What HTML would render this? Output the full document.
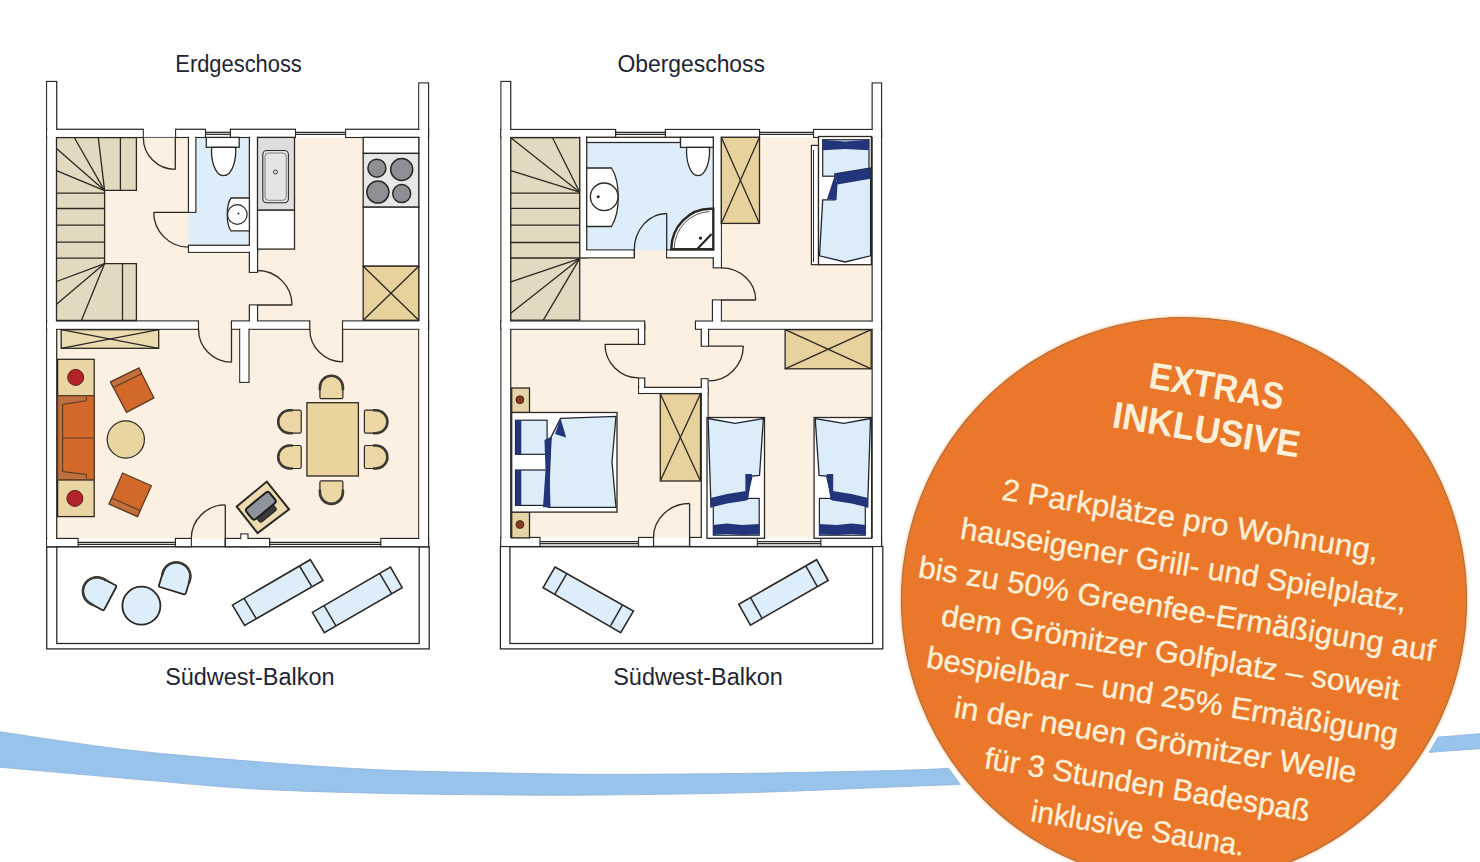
<!DOCTYPE html><html><head><meta charset="utf-8"><style>html,body{margin:0;padding:0;background:#fff}body{width:1480px;height:862px;overflow:hidden;position:relative}svg{position:absolute;left:0;top:0;display:block}text{font-family:"Liberation Sans",sans-serif}</style></head><body>
<svg width="1480" height="862" viewBox="0 0 1480 862">
<rect width="1480" height="862" fill="#fff"/>
<path d="M-2,731.5 L0,731.8 C20.83,734.77 83.33,744.72 125,749.6 C166.67,754.48 208.33,757.77 250,761.1 C291.67,764.43 333.33,767.63 375,769.6 C416.67,771.57 462.5,772.12 500,772.9 C537.5,773.68 558.33,774.23 600,774.3 C641.67,774.37 700,773.97 750,773.3 C800,772.63 866.88,771.13 900,770.3 C933.12,769.47 940.58,768.63 948.7,768.3 L960.3,784.5 C950.25,784.87 935.05,785.35 900,786.7 C864.95,788.05 800,791.22 750,792.6 C700,793.98 641.67,794.62 600,795 C558.33,795.38 537.5,795.2 500,794.9 C462.5,794.6 416.67,794.23 375,793.2 C333.33,792.17 291.67,791.18 250,788.7 C208.33,786.22 166.67,781.87 125,778.3 C83.33,774.73 20.83,769.13 0,767.3 L-2,767 Z" fill="#98c3ea" stroke="#8fb4d8" stroke-width="0.8"/>
<path d="M1438,737.1 L1482,733.6 L1482,748.5 L1429.2,752.4 Z" fill="#98c3ea" stroke="#8fb4d8" stroke-width="0.8"/>
<circle cx="1184" cy="600" r="285.5" fill="#fef3e6"/><circle cx="1184" cy="600" r="284.2" fill="#fbe2c6"/>
<circle cx="1184" cy="600" r="282.5" fill="#ea772a" stroke="#b06c3c" stroke-width="1.2"/>
<g transform="translate(1184,600) rotate(9.3)" fill="#fdf0d8"><text x="-70.1" y="-203.5" font-size="37.5" font-weight="bold" textLength="135.9" lengthAdjust="spacingAndGlyphs">EXTRAS</text><text x="-100.1" y="-158.9" font-size="37.5" font-weight="bold" textLength="189.6" lengthAdjust="spacingAndGlyphs">INKLUSIVE</text><text x="-197.2" y="-69.5" font-size="30.5" stroke="#fdf0d8" stroke-width="0.35" textLength="381.2" lengthAdjust="spacingAndGlyphs">2 Parkplätze pro Wohnung,</text><text x="-231.7" y="-24.5" font-size="30.5" stroke="#fdf0d8" stroke-width="0.35" textLength="451.6" lengthAdjust="spacingAndGlyphs">hauseigener Grill- und Spielplatz,</text><text x="-267.1" y="20.3" font-size="30.5" stroke="#fdf0d8" stroke-width="0.35" textLength="523.1" lengthAdjust="spacingAndGlyphs">bis zu 50% Greenfee-Ermäßigung auf</text><text x="-236.8" y="64.3" font-size="30.5" stroke="#fdf0d8" stroke-width="0.35" textLength="464.3" lengthAdjust="spacingAndGlyphs">dem Grömitzer Golfplatz – soweit</text><text x="-244.5" y="108.3" font-size="30.5" stroke="#fdf0d8" stroke-width="0.35" textLength="477.3" lengthAdjust="spacingAndGlyphs">bespielbar – und 25% Ermäßigung</text><text x="-209.1" y="153" font-size="30.5" stroke="#fdf0d8" stroke-width="0.35" textLength="407.1" lengthAdjust="spacingAndGlyphs">in der neuen Grömitzer Welle</text><text x="-171" y="198.5" font-size="30.5" stroke="#fdf0d8" stroke-width="0.35" textLength="329.5" lengthAdjust="spacingAndGlyphs">für 3 Stunden Badespaß</text><text x="-116.4" y="243" font-size="30.5" stroke="#fdf0d8" stroke-width="0.35" textLength="215.9" lengthAdjust="spacingAndGlyphs">inklusive Sauna.</text></g>
<text x="175.3" y="71.5" font-size="23" fill="#1d2433" textLength="126.5" lengthAdjust="spacingAndGlyphs">Erdgeschoss</text>
<text x="617.4" y="71.5" font-size="23" fill="#1d2433" textLength="147.6" lengthAdjust="spacingAndGlyphs">Obergeschoss</text>
<text x="165.2" y="684.6" font-size="23" fill="#1d2433" textLength="169.3" lengthAdjust="spacingAndGlyphs">Südwest-Balkon</text>
<text x="613.2" y="684.6" font-size="23" fill="#1d2433" textLength="169.6" lengthAdjust="spacingAndGlyphs">Südwest-Balkon</text>
<rect x="46.7" y="546.7" width="382.5" height="102.2" fill="#fff" stroke="#2c2924" stroke-width="1.3" />
<rect x="56.8" y="546.8" width="362.4" height="96.7" fill="#fff" stroke="#2c2924" stroke-width="1.3" />
<rect x="56.7" y="137.4" width="362.1" height="401.1" fill="#fbf0e2" stroke="none" stroke-width="0" />
<rect x="195.8" y="137.4" width="53.6" height="107.9" fill="#ddedfa" stroke="none" stroke-width="0" />
<rect x="188.5" y="212.3" width="7.5" height="33" fill="#ddedfa" stroke="none" stroke-width="0" />
<g fill="#fff" stroke="#2c2924" stroke-width="1.3"><rect x="46.7" y="81.5" width="10" height="465.2"/><rect x="418.8" y="83" width="9.7" height="463.7"/><rect x="46.7" y="129.3" width="96.5" height="8.1"/><rect x="175.7" y="129.3" width="29.7" height="8.1"/><rect x="230.5" y="129.3" width="64.9" height="8.1"/><rect x="345.7" y="129.3" width="82.8" height="8.1"/><rect x="188.5" y="133" width="7.3" height="79.3"/><rect x="188.5" y="245.3" width="69" height="7"/><rect x="249.4" y="133" width="8.1" height="139.3"/><rect x="249.4" y="305" width="8.1" height="20"/><rect x="46.7" y="321" width="151.7" height="8.2"/><rect x="231.5" y="321" width="78.2" height="8.2"/><rect x="342.6" y="321" width="85.9" height="8.2"/><rect x="239.8" y="325" width="9.1" height="57.3"/><rect x="46.7" y="538.5" width="31.3" height="8.2"/><rect x="175.5" y="538.5" width="15.8" height="8.2"/><rect x="225.3" y="538.5" width="44.3" height="8.2"/><rect x="240.9" y="534" width="7" height="12.7"/><rect x="381" y="538.5" width="47.5" height="8.2"/></g>
<g fill="#fff"><rect x="47.35" y="82.15" width="8.7" height="463.9"/><rect x="419.45" y="83.65" width="8.4" height="462.4"/><rect x="47.35" y="129.95" width="95.2" height="6.8"/><rect x="176.35" y="129.95" width="28.4" height="6.8"/><rect x="231.15" y="129.95" width="63.6" height="6.8"/><rect x="346.35" y="129.95" width="81.5" height="6.8"/><rect x="189.15" y="133.65" width="6" height="78"/><rect x="189.15" y="245.95" width="67.7" height="5.7"/><rect x="250.05" y="133.65" width="6.8" height="138"/><rect x="250.05" y="305.65" width="6.8" height="18.7"/><rect x="47.35" y="321.65" width="150.4" height="6.9"/><rect x="232.15" y="321.65" width="76.9" height="6.9"/><rect x="343.25" y="321.65" width="84.6" height="6.9"/><rect x="240.45" y="325.65" width="7.8" height="56"/><rect x="47.35" y="539.15" width="30" height="6.9"/><rect x="176.15" y="539.15" width="14.5" height="6.9"/><rect x="225.95" y="539.15" width="43" height="6.9"/><rect x="241.55" y="534.65" width="5.7" height="11.4"/><rect x="381.65" y="539.15" width="46.2" height="6.9"/></g>
<line x1="205.4" y1="132.3" x2="230.5" y2="132.3" stroke="#2c2924" stroke-width="1.25"/>
<line x1="205.4" y1="134.3" x2="230.5" y2="134.3" stroke="#2c2924" stroke-width="1.25"/>
<line x1="295.4" y1="132.3" x2="345.7" y2="132.3" stroke="#2c2924" stroke-width="1.25"/>
<line x1="295.4" y1="134.3" x2="345.7" y2="134.3" stroke="#2c2924" stroke-width="1.25"/>
<line x1="78" y1="542.4" x2="175.5" y2="542.4" stroke="#2c2924" stroke-width="1.25"/>
<line x1="78" y1="544.4" x2="175.5" y2="544.4" stroke="#2c2924" stroke-width="1.25"/>
<line x1="269.6" y1="542.4" x2="381" y2="542.4" stroke="#2c2924" stroke-width="1.25"/>
<line x1="269.6" y1="544.4" x2="381" y2="544.4" stroke="#2c2924" stroke-width="1.25"/>
<line x1="175.3" y1="137.4" x2="175.3" y2="169.4" stroke="#2c2924" stroke-width="1.3"/>
<path d="M175.3,169.4 A32,32 0 0 1 143.3,137.4" fill="none" stroke="#2c2924" stroke-width="1.3" />
<line x1="143.2" y1="137.4" x2="175.3" y2="137.4" stroke="#555" stroke-width="1.0"/>
<line x1="188.5" y1="212.3" x2="153.7" y2="212.3" stroke="#2c2924" stroke-width="1.3"/>
<path d="M153.7,212.3 A34.8,34.8 0 0 0 188.5,247.1" fill="none" stroke="#2c2924" stroke-width="1.3" />
<line x1="257.5" y1="305" x2="292" y2="305" stroke="#2c2924" stroke-width="1.3"/>
<path d="M292,305 A34.5,34.5 0 0 0 257.5,270.5" fill="none" stroke="#2c2924" stroke-width="1.3" />
<line x1="231.5" y1="329.2" x2="231.5" y2="362.2" stroke="#2c2924" stroke-width="1.3"/>
<path d="M231.5,362.2 A33,33 0 0 1 198.5,329.2" fill="none" stroke="#2c2924" stroke-width="1.3" />
<line x1="342.6" y1="329.2" x2="342.6" y2="361.8" stroke="#2c2924" stroke-width="1.3"/>
<path d="M342.6,361.8 A32.8,32.6 0 0 1 309.8,329.2" fill="none" stroke="#2c2924" stroke-width="1.3" />
<line x1="225.3" y1="538.5" x2="225.3" y2="504.9" stroke="#2c2924" stroke-width="1.3"/>
<path d="M225.3,504.9 A34,33.6 0 0 0 191.3,538.5" fill="none" stroke="#2c2924" stroke-width="1.3" />
<line x1="225.3" y1="538.5" x2="225.3" y2="546.7" stroke="#2c2924" stroke-width="1.3"/>
<polygon points="56.5,137.7 136.4,137.7 136.4,190.4 104.6,190.4 104.6,263.6 136.4,263.6 136.4,320.5 56.5,320.5" fill="#e3d8c0" stroke="#2c2924" stroke-width="1.3" />
<line x1="120.4" y1="137.7" x2="120.4" y2="190.4" stroke="#2c2924" stroke-width="1.3"/>
<line x1="104.6" y1="190.6" x2="98.3" y2="137.7" stroke="#2c2924" stroke-width="1.3"/>
<line x1="104.6" y1="190.6" x2="74.4" y2="137.7" stroke="#2c2924" stroke-width="1.3"/>
<line x1="104.6" y1="190.6" x2="56.5" y2="148.6" stroke="#2c2924" stroke-width="1.3"/>
<line x1="104.6" y1="190.6" x2="56.5" y2="170.7" stroke="#2c2924" stroke-width="1.3"/>
<line x1="56.5" y1="193.2" x2="104.6" y2="193.2" stroke="#2c2924" stroke-width="1.3"/>
<line x1="56.5" y1="208.5" x2="104.6" y2="208.5" stroke="#2c2924" stroke-width="1.3"/>
<line x1="56.5" y1="225.2" x2="104.6" y2="225.2" stroke="#2c2924" stroke-width="1.3"/>
<line x1="56.5" y1="242.2" x2="104.6" y2="242.2" stroke="#2c2924" stroke-width="1.3"/>
<line x1="56.5" y1="258.2" x2="104.6" y2="258.2" stroke="#2c2924" stroke-width="1.3"/>
<line x1="104.6" y1="263.6" x2="56.5" y2="281.5" stroke="#2c2924" stroke-width="1.3"/>
<line x1="104.6" y1="263.6" x2="56.5" y2="304.2" stroke="#2c2924" stroke-width="1.3"/>
<line x1="104.6" y1="263.6" x2="81.4" y2="320.5" stroke="#2c2924" stroke-width="1.3"/>
<line x1="122.5" y1="263.6" x2="122.5" y2="320.5" stroke="#2c2924" stroke-width="1.3"/>
<rect x="206.3" y="137.4" width="32.9" height="9.9" fill="#fff" stroke="#2c2924" stroke-width="1.3" />
<path d="M211.7,147.3 L235.6,147.3 C236.5,158 233,175.6 223.6,175.6 C214.2,175.6 210.7,158 211.7,147.3 Z" fill="#fff" stroke="#2c2924" stroke-width="1.3" />
<path d="M249.4,198 L231,198 C226,205 226,224 231,230.9 L249.4,230.9 Z" fill="#fff" stroke="#2c2924" stroke-width="1.3" />
<circle cx="237.3" cy="214.5" r="9.8" fill="#fff" stroke="#2c2924" stroke-width="1.2"/>
<circle cx="238.5" cy="213.5" r="1" fill="#2c2924"/>
<rect x="257.5" y="137.4" width="37" height="72.8" fill="#dedede" stroke="#2c2924" stroke-width="1.3" />
<rect x="262.8" y="150.5" width="25.6" height="52.3" rx="4" fill="#e4e4e4" stroke="#2c2924" stroke-width="1.1"/>
<rect x="265" y="153" width="21.2" height="47.3" rx="3.5" fill="none" stroke="#666" stroke-width="0.8"/>
<circle cx="275.5" cy="172" r="2" fill="none" stroke="#2c2924" stroke-width="0.9"/>
<rect x="257.5" y="210.2" width="37" height="38.9" fill="#fff" stroke="#2c2924" stroke-width="1.3" />
<rect x="363.2" y="137.4" width="55.6" height="16" fill="#fff" stroke="#2c2924" stroke-width="1.3" />
<rect x="363.2" y="153.4" width="55.6" height="53.8" fill="#e7e7e7" stroke="#2c2924" stroke-width="1.3" />
<circle cx="376.9" cy="168.2" r="9" fill="#8e8e94" stroke="#2c2924" stroke-width="1.5"/>
<circle cx="401.7" cy="169.5" r="11" fill="#8e8e94" stroke="#2c2924" stroke-width="1.5"/>
<circle cx="377.9" cy="192.1" r="11" fill="#8e8e94" stroke="#2c2924" stroke-width="1.5"/>
<circle cx="401.7" cy="193.6" r="9" fill="#8e8e94" stroke="#2c2924" stroke-width="1.5"/>
<rect x="363.2" y="207.2" width="55.6" height="59" fill="#fff" stroke="#2c2924" stroke-width="1.3" />
<rect x="363.2" y="266.2" width="55.6" height="54.1" fill="#e7d19c" stroke="#2c2924" stroke-width="1.3" />
<line x1="363.2" y1="266.2" x2="418.8" y2="320.3" stroke="#2c2924" stroke-width="1.3"/>
<line x1="363.2" y1="320.3" x2="418.8" y2="266.2" stroke="#2c2924" stroke-width="1.3"/>
<rect x="61.2" y="329.7" width="97.5" height="18.6" fill="#eadcb0" stroke="#2c2924" stroke-width="1.3" />
<line x1="61.2" y1="329.7" x2="158.7" y2="348.3" stroke="#2c2924" stroke-width="1.3"/>
<line x1="61.2" y1="348.3" x2="158.7" y2="329.7" stroke="#2c2924" stroke-width="1.3"/>
<rect x="57.6" y="359.3" width="36.6" height="36.4" fill="#e9d6a4" stroke="#2c2924" stroke-width="1.3" />
<rect x="57.6" y="479.8" width="36.6" height="36.8" fill="#e9d6a4" stroke="#2c2924" stroke-width="1.3" />
<circle cx="75.7" cy="377.4" r="8" fill="#b3232a" stroke="#5a1d18" stroke-width="1"/>
<circle cx="74.9" cy="498.4" r="8" fill="#b3232a" stroke="#5a1d18" stroke-width="1"/>
<rect x="57.6" y="395.7" width="36.6" height="84.1" fill="#c0703e" stroke="#5a3a22" stroke-width="1.2" />
<polygon points="94.2,397 86.5,397 86.2,400.8 62.6,404.5 62.6,471.5 86.2,474.5 86.5,478.5 94.2,478.5" fill="#d2682a" stroke="none" stroke-width="0" />
<path d="M86.5,397 L86.2,400.8 L62.6,404.5 L62.6,471.5 L86.2,474.5 L86.5,478.5" fill="none" stroke="#5a3a22" stroke-width="1.1" />
<line x1="62.6" y1="438" x2="94.2" y2="438" stroke="#5a3a22" stroke-width="1.1"/>
<line x1="94.2" y1="395.7" x2="94.2" y2="479.8" stroke="#5a3a22" stroke-width="1.2"/>
<polygon points="110.5,381.9 138.9,368 154,397.9 126.5,412.4" fill="#d2682a" stroke="#5a3a22" stroke-width="1.2" />
<polygon points="110.5,381.9 138.9,368 141.8,373.8 113.4,387.6" fill="#c0703e" stroke="#5a3a22" stroke-width="1.1" />
<polygon points="122.6,473 151.4,485.8 137.5,516.6 109.1,504" fill="#d2682a" stroke="#5a3a22" stroke-width="1.2" />
<polygon points="109.1,504 137.5,516.6 140.2,510.6 111.8,498" fill="#c0703e" stroke="#5a3a22" stroke-width="1.1" />
<circle cx="125.8" cy="439.5" r="18.6" fill="#e8d5a0" stroke="#2c2924" stroke-width="1.2"/>
<rect x="306.9" y="402.7" width="51.5" height="73.3" fill="#e8d49c" stroke="#2c2924" stroke-width="1.3" />
<g transform="translate(331.4,387.2) rotate(0)"><path d="M-11.5,10.0 L-11.5,0.0 A11.5,11.5 0 0 1 11.5,0.0 L11.5,10.0 Q11.5,11.5 10.0,11.5 L-10.0,11.5 Q-11.5,11.5 -11.5,10.0 Z" fill="#ebd6a4" stroke="#2c2924" stroke-width="1.2" stroke-linejoin="round"/><path d="M-11.5,3.0 L-11.5,0.0 A11.5,11.5 0 0 1 11.5,0.0 L11.5,3.0" fill="none" stroke="#3d3a34" stroke-width="2.6"/></g>
<g transform="translate(331.4,492.4) rotate(180)"><path d="M-11.5,10.0 L-11.5,0.0 A11.5,11.5 0 0 1 11.5,0.0 L11.5,10.0 Q11.5,11.5 10.0,11.5 L-10.0,11.5 Q-11.5,11.5 -11.5,10.0 Z" fill="#ebd6a4" stroke="#2c2924" stroke-width="1.2" stroke-linejoin="round"/><path d="M-11.5,3.0 L-11.5,0.0 A11.5,11.5 0 0 1 11.5,0.0 L11.5,3.0" fill="none" stroke="#3d3a34" stroke-width="2.6"/></g>
<g transform="translate(289.7,421.7) rotate(-90)"><path d="M-11.5,10.0 L-11.5,0.0 A11.5,11.5 0 0 1 11.5,0.0 L11.5,10.0 Q11.5,11.5 10.0,11.5 L-10.0,11.5 Q-11.5,11.5 -11.5,10.0 Z" fill="#ebd6a4" stroke="#2c2924" stroke-width="1.2" stroke-linejoin="round"/><path d="M-11.5,3.0 L-11.5,0.0 A11.5,11.5 0 0 1 11.5,0.0 L11.5,3.0" fill="none" stroke="#3d3a34" stroke-width="2.6"/></g>
<g transform="translate(289.7,457) rotate(-90)"><path d="M-11.5,10.0 L-11.5,0.0 A11.5,11.5 0 0 1 11.5,0.0 L11.5,10.0 Q11.5,11.5 10.0,11.5 L-10.0,11.5 Q-11.5,11.5 -11.5,10.0 Z" fill="#ebd6a4" stroke="#2c2924" stroke-width="1.2" stroke-linejoin="round"/><path d="M-11.5,3.0 L-11.5,0.0 A11.5,11.5 0 0 1 11.5,0.0 L11.5,3.0" fill="none" stroke="#3d3a34" stroke-width="2.6"/></g>
<g transform="translate(375.9,421.7) rotate(90)"><path d="M-11.5,10.0 L-11.5,0.0 A11.5,11.5 0 0 1 11.5,0.0 L11.5,10.0 Q11.5,11.5 10.0,11.5 L-10.0,11.5 Q-11.5,11.5 -11.5,10.0 Z" fill="#ebd6a4" stroke="#2c2924" stroke-width="1.2" stroke-linejoin="round"/><path d="M-11.5,3.0 L-11.5,0.0 A11.5,11.5 0 0 1 11.5,0.0 L11.5,3.0" fill="none" stroke="#3d3a34" stroke-width="2.6"/></g>
<g transform="translate(375.9,457) rotate(90)"><path d="M-11.5,10.0 L-11.5,0.0 A11.5,11.5 0 0 1 11.5,0.0 L11.5,10.0 Q11.5,11.5 10.0,11.5 L-10.0,11.5 Q-11.5,11.5 -11.5,10.0 Z" fill="#ebd6a4" stroke="#2c2924" stroke-width="1.2" stroke-linejoin="round"/><path d="M-11.5,3.0 L-11.5,0.0 A11.5,11.5 0 0 1 11.5,0.0 L11.5,3.0" fill="none" stroke="#3d3a34" stroke-width="2.6"/></g>
<polygon points="236.7,506.6 266.8,481.6 289.1,509.4 257.6,533.1" fill="#ecdab0" stroke="#2c2924" stroke-width="2" />
<g transform="translate(261.5,506.5) rotate(-39.4)"><rect x="-11" y="3" width="21" height="9" rx="2" fill="#3a3a3a" stroke="#2c2924" stroke-width="1.4"/><rect x="-15" y="-8" width="30" height="14" rx="3" fill="#8f939c" stroke="#1e1e1e" stroke-width="2"/></g>
<circle cx="141.4" cy="605.7" r="19" fill="#ddedfa" stroke="#2c2924" stroke-width="1.8"/>
<g transform="translate(97.4,591.5) rotate(-62)"><path d="M-14.0,13.0 L-14.0,-0.5 A14.0,14.0 0 0 1 14.0,-0.5 L14.0,13.0 Q14.0,14.5 12.5,14.5 L-12.5,14.5 Q-14.0,14.5 -14.0,13.0 Z" fill="#ddedfa" stroke="#2c2924" stroke-width="1.8" stroke-linejoin="round"/><path d="M-14.0,2.5 L-14.0,-0.5 A14.0,14.0 0 0 1 14.0,-0.5 L14.0,2.5" fill="none" stroke="#3d3a34" stroke-width="2.6"/></g>
<g transform="translate(176.2,576.8) rotate(17)"><path d="M-14.0,13.0 L-14.0,-0.5 A14.0,14.0 0 0 1 14.0,-0.5 L14.0,13.0 Q14.0,14.5 12.5,14.5 L-12.5,14.5 Q-14.0,14.5 -14.0,13.0 Z" fill="#ddedfa" stroke="#2c2924" stroke-width="1.8" stroke-linejoin="round"/><path d="M-14.0,2.5 L-14.0,-0.5 A14.0,14.0 0 0 1 14.0,-0.5 L14.0,2.5" fill="none" stroke="#3d3a34" stroke-width="2.6"/></g>
<polygon points="232.4,605.1 310.3,559.7 323,580.5 244.6,625.4" fill="#ddedfa" stroke="#2c2924" stroke-width="1.6" />
<line x1="244.06" y1="598.3" x2="256.26" y2="618.6" stroke="#2c2924" stroke-width="1.5"/>
<line x1="299.5" y1="565.99" x2="311.7" y2="586.29" stroke="#2c2924" stroke-width="1.5"/>
<polygon points="312.4,612.4 390.5,567 402.2,587.6 324.3,632.7" fill="#ddedfa" stroke="#2c2924" stroke-width="1.6" />
<line x1="324.07" y1="605.62" x2="335.97" y2="625.92" stroke="#2c2924" stroke-width="1.5"/>
<line x1="379.69" y1="573.28" x2="391.59" y2="593.58" stroke="#2c2924" stroke-width="1.5"/>
<rect x="500.4" y="546.4" width="382.4" height="102.5" fill="#fff" stroke="#2c2924" stroke-width="1.3" />
<rect x="509.9" y="546.8" width="362.7" height="96.7" fill="#fff" stroke="#2c2924" stroke-width="1.3" />
<rect x="510.7" y="137.3" width="361.5" height="400.2" fill="#fbf0e2" stroke="none" stroke-width="0" />
<rect x="586.7" y="137.3" width="126.6" height="112.7" fill="#ddedfa" stroke="none" stroke-width="0" />
<g fill="#fff" stroke="#2c2924" stroke-width="1.3"><rect x="501" y="81.5" width="9.7" height="464.9"/><rect x="872.2" y="83" width="9.3" height="463.4"/><rect x="501" y="129.5" width="114.6" height="7.8"/><rect x="665.4" y="129.5" width="94.1" height="7.8"/><rect x="813.6" y="129.5" width="67.9" height="7.8"/><rect x="579.7" y="133.4" width="7" height="124.4"/><rect x="579.7" y="250" width="54.6" height="7.8"/><rect x="666.7" y="250" width="54.6" height="7.8"/><rect x="713.3" y="133.4" width="8" height="134.4"/><rect x="712.5" y="300" width="8.8" height="25"/><rect x="501" y="321.1" width="143.7" height="8.1"/><rect x="695.5" y="321.1" width="186" height="8.1"/><rect x="638.5" y="325" width="6.2" height="19.3"/><rect x="701.3" y="325" width="7.2" height="21.1"/><rect x="638.7" y="378.1" width="6" height="15.3"/><rect x="638.7" y="387.4" width="69.3" height="6"/><rect x="701.3" y="378.8" width="6.7" height="167.6"/><rect x="501" y="537.5" width="38.9" height="8.9"/><rect x="638.7" y="537.5" width="14.8" height="8.9"/><rect x="689.6" y="537.5" width="67.6" height="8.9"/><rect x="821" y="537.5" width="60.5" height="8.9"/></g>
<g fill="#fff"><rect x="501.65" y="82.15" width="8.4" height="463.6"/><rect x="872.85" y="83.65" width="8" height="462.1"/><rect x="501.65" y="130.15" width="113.3" height="6.5"/><rect x="666.05" y="130.15" width="92.8" height="6.5"/><rect x="814.25" y="130.15" width="66.6" height="6.5"/><rect x="580.35" y="134.05" width="5.7" height="123.1"/><rect x="580.35" y="250.65" width="53.3" height="6.5"/><rect x="667.35" y="250.65" width="53.3" height="6.5"/><rect x="713.95" y="134.05" width="6.7" height="133.1"/><rect x="713.15" y="300.65" width="7.5" height="23.7"/><rect x="501.65" y="321.75" width="142.4" height="6.8"/><rect x="696.15" y="321.75" width="184.7" height="6.8"/><rect x="639.15" y="325.65" width="4.9" height="18"/><rect x="701.95" y="325.65" width="5.9" height="19.8"/><rect x="639.35" y="378.75" width="4.7" height="14"/><rect x="639.35" y="388.05" width="68" height="4.7"/><rect x="701.95" y="379.45" width="5.4" height="166.3"/><rect x="501.65" y="538.15" width="37.6" height="7.6"/><rect x="639.35" y="538.15" width="13.5" height="7.6"/><rect x="690.25" y="538.15" width="66.3" height="7.6"/><rect x="821.65" y="538.15" width="59.2" height="7.6"/></g>
<line x1="615.6" y1="132.4" x2="665.4" y2="132.4" stroke="#2c2924" stroke-width="1.25"/>
<line x1="615.6" y1="134.3" x2="665.4" y2="134.3" stroke="#2c2924" stroke-width="1.25"/>
<line x1="759.5" y1="132.4" x2="813.6" y2="132.4" stroke="#2c2924" stroke-width="1.25"/>
<line x1="759.5" y1="134.3" x2="813.6" y2="134.3" stroke="#2c2924" stroke-width="1.25"/>
<line x1="539.9" y1="541.6" x2="638.7" y2="541.6" stroke="#2c2924" stroke-width="1.25"/>
<line x1="539.9" y1="543.6" x2="638.7" y2="543.6" stroke="#2c2924" stroke-width="1.25"/>
<line x1="757.2" y1="541.6" x2="821" y2="541.6" stroke="#2c2924" stroke-width="1.25"/>
<line x1="757.2" y1="543.6" x2="821" y2="543.6" stroke="#2c2924" stroke-width="1.25"/>
<line x1="666.7" y1="250" x2="666.7" y2="213.5" stroke="#2c2924" stroke-width="1.3"/>
<path d="M666.7,213.5 A32.4,36.5 0 0 0 634.3,250" fill="none" stroke="#2c2924" stroke-width="1.3" />
<line x1="634.3" y1="250" x2="634.3" y2="257.8" stroke="#2c2924" stroke-width="1.3"/>
<line x1="721.3" y1="300" x2="755.7" y2="300" stroke="#2c2924" stroke-width="1.3"/>
<path d="M755.7,300 A34.4,32.2 0 0 0 721.3,267.8" fill="none" stroke="#2c2924" stroke-width="1.3" />
<line x1="638.5" y1="344.3" x2="605" y2="344.3" stroke="#2c2924" stroke-width="1.3"/>
<path d="M605,344.3 A33.5,33.5 0 0 0 638.5,377.8" fill="none" stroke="#2c2924" stroke-width="1.3" />
<line x1="708.5" y1="346.1" x2="743.3" y2="346.1" stroke="#2c2924" stroke-width="1.3"/>
<path d="M743.3,346.1 A34.8,34.8 0 0 1 708.5,380.9" fill="none" stroke="#2c2924" stroke-width="1.3" />
<line x1="689.6" y1="537.5" x2="689.6" y2="503.5" stroke="#2c2924" stroke-width="1.3"/>
<path d="M689.6,503.5 A36.1,34 0 0 0 653.5,537.5" fill="none" stroke="#2c2924" stroke-width="1.3" />
<line x1="689.6" y1="537.5" x2="689.6" y2="546.4" stroke="#2c2924" stroke-width="1.3"/>
<rect x="510.8" y="137.7" width="68.9" height="182.5" fill="#e3d8c0" stroke="#2c2924" stroke-width="1.3" />
<line x1="579.7" y1="192.2" x2="552.5" y2="137.7" stroke="#2c2924" stroke-width="1.3"/>
<line x1="579.7" y1="192.2" x2="510.8" y2="137.7" stroke="#2c2924" stroke-width="1.3"/>
<line x1="579.7" y1="192.2" x2="510.8" y2="170.6" stroke="#2c2924" stroke-width="1.3"/>
<line x1="510.8" y1="193.1" x2="579.7" y2="193.1" stroke="#2c2924" stroke-width="1.3"/>
<line x1="510.8" y1="208.4" x2="579.7" y2="208.4" stroke="#2c2924" stroke-width="1.3"/>
<line x1="510.8" y1="225.1" x2="579.7" y2="225.1" stroke="#2c2924" stroke-width="1.3"/>
<line x1="510.8" y1="242.5" x2="579.7" y2="242.5" stroke="#2c2924" stroke-width="1.3"/>
<line x1="510.8" y1="258" x2="579.7" y2="258" stroke="#2c2924" stroke-width="1.3"/>
<line x1="579.7" y1="258.7" x2="510.8" y2="281.9" stroke="#2c2924" stroke-width="1.3"/>
<line x1="579.7" y1="258.7" x2="510.8" y2="313.3" stroke="#2c2924" stroke-width="1.3"/>
<line x1="579.7" y1="258.7" x2="543.3" y2="320.2" stroke="#2c2924" stroke-width="1.3"/>
<rect x="586.7" y="137.3" width="93.8" height="5.2" fill="#fff" stroke="#2c2924" stroke-width="1.3" />
<rect x="680.5" y="137.3" width="32.8" height="10.1" fill="#fff" stroke="#2c2924" stroke-width="1.3" />
<path d="M686.7,147.4 L709.4,147.4 C710.5,160 706,175.6 698,175.6 C690,175.6 685.6,160 686.7,147.4 Z" fill="#fff" stroke="#2c2924" stroke-width="1.3" />
<path d="M586.7,168 L611.5,168 C620.5,182 620.5,212 611.5,226.5 L586.7,226.5 Z" fill="#fff" stroke="#2c2924" stroke-width="1.3" />
<circle cx="604.2" cy="196.8" r="13.8" fill="#fff" stroke="#2c2924" stroke-width="1.3"/>
<circle cx="598.2" cy="196.8" r="1.5" fill="#2c2924"/>
<path d="M713.3,208.7 L710.5,208.7 A39.2,40.5 0 0 0 671.3,249.2 L713.3,249.2 Z" fill="#fff" stroke="#2c2924" stroke-width="2.4" />
<path d="M709.5,211.6 A36.5,37.5 0 0 0 674.2,248.5" fill="none" stroke="#2c2924" stroke-width="0.8" />
<line x1="697.7" y1="248.5" x2="711.6" y2="234.1" stroke="#2c2924" stroke-width="2.2"/>
<circle cx="700.5" cy="238.1" r="1.7" fill="#2c2924"/>
<rect x="721.3" y="137.3" width="38.2" height="86.1" fill="#e7d19c" stroke="#2c2924" stroke-width="1.3" />
<line x1="721.3" y1="137.3" x2="759.5" y2="223.4" stroke="#2c2924" stroke-width="1.3"/>
<line x1="721.3" y1="223.4" x2="759.5" y2="137.3" stroke="#2c2924" stroke-width="1.3"/>
<rect x="660.3" y="393.7" width="40.2" height="87.3" fill="#e7d19c" stroke="#2c2924" stroke-width="1.3" />
<line x1="660.3" y1="393.7" x2="700.5" y2="481" stroke="#2c2924" stroke-width="1.3"/>
<line x1="660.3" y1="481" x2="700.5" y2="393.7" stroke="#2c2924" stroke-width="1.3"/>
<rect x="785.1" y="329.7" width="86.1" height="39.1" fill="#e7d19c" stroke="#2c2924" stroke-width="1.3" />
<line x1="785.1" y1="329.7" x2="871.2" y2="368.8" stroke="#2c2924" stroke-width="1.3"/>
<line x1="785.1" y1="368.8" x2="871.2" y2="329.7" stroke="#2c2924" stroke-width="1.3"/>
<polygon points="555,567 633.4,611.1 620.7,632.7 543.1,587.6" fill="#ddedfa" stroke="#2c2924" stroke-width="1.6" />
<line x1="566.77" y1="573.62" x2="554.87" y2="594.22" stroke="#2c2924" stroke-width="1.5"/>
<line x1="622.51" y1="604.97" x2="610.61" y2="625.57" stroke="#2c2924" stroke-width="1.5"/>
<polygon points="738.8,604.3 816.6,559.7 828.2,580.5 750.4,625.1" fill="#ddedfa" stroke="#2c2924" stroke-width="1.6" />
<line x1="750.51" y1="597.59" x2="762.11" y2="618.39" stroke="#2c2924" stroke-width="1.5"/>
<line x1="805.76" y1="565.92" x2="817.36" y2="586.72" stroke="#2c2924" stroke-width="1.5"/>
<g transform="translate(707,417.5)"><rect x="0" y="0" width="57.5" height="120.8" fill="#fff" stroke="#2c2924" stroke-width="1.3"/><polygon points="1.1,1 28,5.8 56.4,1 52.5,58 45,58.5 40,79.5 4,89.5" fill="#ddecf9" stroke="#1e2433" stroke-width="1.3"/><rect x="6.3" y="80.9" width="45.9" height="36.8" fill="#ddecf9" stroke="#1e2433" stroke-width="1.2"/><polygon points="3.5,80.6 20,76.5 39,73.5 39.5,83 20,86 3.5,90" fill="#23357a"/><polygon points="38.4,56.5 45,56.5 41,82.5 38.4,82.5" fill="#23357a"/><polygon points="6,107.5 20,106 35,107.5 52.5,106.5 52.5,116.9 35,117.5 20,116.5 6,117.5" fill="#23357a"/></g>
<g transform="translate(871.6,417.5) scale(-1,1)"><rect x="0" y="0" width="57.5" height="120.8" fill="#fff" stroke="#2c2924" stroke-width="1.3"/><polygon points="1.1,1 28,5.8 56.4,1 52.5,58 45,58.5 40,79.5 4,89.5" fill="#ddecf9" stroke="#1e2433" stroke-width="1.3"/><rect x="6.3" y="80.9" width="45.9" height="36.8" fill="#ddecf9" stroke="#1e2433" stroke-width="1.2"/><polygon points="3.5,80.6 20,76.5 39,73.5 39.5,83 20,86 3.5,90" fill="#23357a"/><polygon points="38.4,56.5 45,56.5 41,82.5 38.4,82.5" fill="#23357a"/><polygon points="6,107.5 20,106 35,107.5 52.5,106.5 52.5,116.9 35,117.5 20,116.5 6,117.5" fill="#23357a"/></g>
<rect x="811.4" y="145.4" width="7.1" height="119.3" fill="#fff" stroke="#2c2924" stroke-width="1.2" />
<rect x="818.5" y="136.5" width="52.9" height="128.2" fill="#fff" stroke="#2c2924" stroke-width="1.3" />
<rect x="822.7" y="139.7" width="46.3" height="36.5" fill="#ddecf9" stroke="#1e2433" stroke-width="1.2" />
<polygon points="822.7,139.7 845,141.5 869,139.7 869,150.3 845,149 822.7,150.3" fill="#23357a" stroke="none" stroke-width="0" />
<polygon points="834.9,173.8 870.6,168.1 870.6,255.8 845,262 819.5,255.8 822.7,199.8 828,199.8 834.9,199.8" fill="#ddecf9" stroke="#1e2433" stroke-width="1.3" />
<polygon points="834.9,173.8 870.6,168.1 870.6,178.7 837.3,184.4" fill="#23357a" stroke="none" stroke-width="0" />
<polygon points="834.9,175 837.5,184.4 836.5,200 827,199" fill="#23357a" stroke="none" stroke-width="0" />
<line x1="813.5" y1="150" x2="813.5" y2="262" stroke="#2c2924" stroke-width="1"/>
<rect x="511.7" y="388" width="17.8" height="24.5" fill="#e6d3a6" stroke="#2c2924" stroke-width="1.3" />
<rect x="511.7" y="512.1" width="17.8" height="25.8" fill="#e6d3a6" stroke="#2c2924" stroke-width="1.3" />
<circle cx="519.9" cy="399.7" r="4" fill="#8a3a1c" stroke="#3a2414" stroke-width="0.8"/>
<circle cx="519.9" cy="524.5" r="4" fill="#8a3a1c" stroke="#3a2414" stroke-width="0.8"/>
<rect x="511.7" y="412.5" width="105.3" height="99.6" fill="#fff" stroke="#2c2924" stroke-width="1.3" />
<rect x="515.5" y="420.2" width="31.6" height="34.1" fill="#ddecf9" stroke="#1e2433" stroke-width="1.2" />
<rect x="515.5" y="470" width="31.6" height="35.4" fill="#ddecf9" stroke="#1e2433" stroke-width="1.2" />
<rect x="515.5" y="420.2" width="5.8" height="34.1" fill="#23357a" stroke="none" stroke-width="0" />
<rect x="515.5" y="470" width="5.8" height="35.4" fill="#23357a" stroke="none" stroke-width="0" />
<polygon points="551,437.4 560.5,418.3 616,416.4 612,462 616,507.3 548,507.3" fill="#ddecf9" stroke="#1e2433" stroke-width="1.3" />
<polygon points="544.5,440 551.5,436.5 549.5,470 550.5,507.3 543,507.3 545.5,470" fill="#23357a" stroke="none" stroke-width="0" />
<polygon points="555,434 560.5,418.3 566.2,437.4" fill="#23357a" stroke="none" stroke-width="0" />
</svg></body></html>
